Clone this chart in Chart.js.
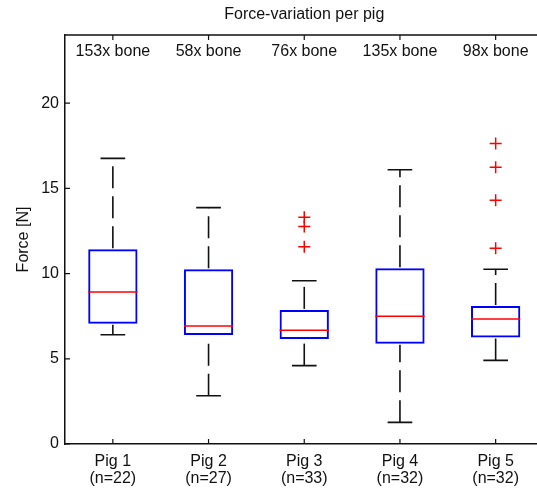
<!DOCTYPE html>
<html>
<head>
<meta charset="utf-8">
<title>Force-variation per pig</title>
<script src="https://cdn.jsdelivr.net/npm/chart.js@4.4.1/dist/chart.umd.min.js"></script>
<style>
  html, body { margin: 0; padding: 0; background: #fff; overflow: hidden; }
  #frame { width: 537px; height: 489px; overflow: hidden; position: relative; }
  #boxChart { position: absolute; left: 0; top: 0; }
</style>
</head>
<body>
<div id="frame"><canvas id="boxChart" width="551" height="489"></canvas></div>
<script>
// data
const categories = ['Pig 1', 'Pig 2', 'Pig 3', 'Pig 4', 'Pig 5'];
const sampleSizes = ['(n=22)', '(n=27)', '(n=33)', '(n=32)', '(n=32)'];
const boneCounts = ['153x bone', '58x bone', '76x bone', '135x bone', '98x bone'];
const lowerWhisker = [6.41, 2.83, 4.60, 1.27, 4.91];
const q1 = [7.05, 6.39, 6.16, 5.88, 6.25];
const median = [8.92, 6.92, 6.68, 7.50, 7.34];
const q3 = [11.43, 10.25, 7.87, 10.32, 8.10];
const upperWhisker = [16.76, 13.87, 9.58, 16.09, 10.25];
const outlierPig3 = [13.30, 12.76, 11.57];
const outlierPig5 = [17.63, 16.24, 14.31, 11.49];
const yTicks = [0, 5, 10, 15, 20];

const outliers = [];
outlierPig3.forEach(v => outliers.push({ x: 'Pig 3', y: v }));
outlierPig5.forEach(v => outliers.push({ x: 'Pig 5', y: v }));

Chart.defaults.font.family = "'Liberation Sans', Arial, sans-serif";
Chart.defaults.font.size = 16;
Chart.defaults.color = '#111';

// whiskers, medians, inward ticks, box frame and the text annotations
const boxPlotLines = {
    id: 'boxPlotLines',
    afterDatasetsDraw(chart) {
        const ctx = chart.ctx;
        const x = chart.scales.x;
        const y = chart.scales.y;
        const area = chart.chartArea;
        const bars = chart.getDatasetMeta(0).data;
        ctx.save();
        categories.forEach((c, i) => {
            const cx = x.getPixelForValue(i);
            const half = bars[i].width / 2;
            const cap = half / 2;
            ctx.strokeStyle = '#111';
            ctx.lineWidth = 1.6;
            // dashed whiskers, both drawn bottom-up like matlab does
            ctx.setLineDash([22, 8]);
            ctx.beginPath();
            ctx.moveTo(cx, y.getPixelForValue(q3[i]) - 1);
            ctx.lineTo(cx, y.getPixelForValue(upperWhisker[i]));
            ctx.stroke();
            ctx.beginPath();
            ctx.moveTo(cx, y.getPixelForValue(lowerWhisker[i]));
            ctx.lineTo(cx, y.getPixelForValue(q1[i]) + 1);
            ctx.stroke();
            ctx.setLineDash([]);
            // caps
            ctx.beginPath();
            ctx.moveTo(cx - cap, y.getPixelForValue(upperWhisker[i]));
            ctx.lineTo(cx + cap, y.getPixelForValue(upperWhisker[i]));
            ctx.moveTo(cx - cap, y.getPixelForValue(lowerWhisker[i]));
            ctx.lineTo(cx + cap, y.getPixelForValue(lowerWhisker[i]));
            ctx.stroke();
            // median
            ctx.strokeStyle = '#ff0000';
            ctx.lineWidth = 1.5;
            ctx.beginPath();
            ctx.moveTo(cx - half, y.getPixelForValue(median[i]));
            ctx.lineTo(cx + half, y.getPixelForValue(median[i]));
            ctx.stroke();
        });

        // frame top/right and inward ticks
        ctx.strokeStyle = '#111';
        ctx.lineWidth = 1.5;
        ctx.beginPath();
        ctx.moveTo(area.left, area.top);
        ctx.lineTo(area.right, area.top);
        ctx.lineTo(area.right, area.bottom);
        ctx.stroke();
        ctx.lineWidth = 1.2;
        ctx.beginPath();
        yTicks.forEach(v => {
            const py = y.getPixelForValue(v);
            ctx.moveTo(area.left, py);
            ctx.lineTo(area.left + 5, py);
            ctx.moveTo(area.right, py);
            ctx.lineTo(area.right - 5, py);
        });
        categories.forEach((c, i) => {
            const px = x.getPixelForValue(i);
            ctx.moveTo(px, area.bottom);
            ctx.lineTo(px, area.bottom - 5);
            ctx.moveTo(px, area.top);
            ctx.lineTo(px, area.top + 5);
        });
        ctx.stroke();

        // title and bone counts
        ctx.fillStyle = '#111';
        ctx.font = "16px 'Liberation Sans', Arial, sans-serif";
        ctx.textAlign = 'center';
        ctx.textBaseline = 'middle';
        ctx.fillText('Force-variation per pig', (area.left + area.right) / 2, 15);
        boneCounts.forEach((t, i) => {
            ctx.fillText(t, x.getPixelForValue(i), area.top + 17);
        });
        ctx.restore();
    }
};

const boxChart = new Chart(document.getElementById('boxChart').getContext('2d'), {
    type: 'bar',
    data: {
        labels: categories,
        datasets: [{
            label: 'IQR',
            data: categories.map((c, i) => [q1[i], q3[i]]),
            backgroundColor: 'rgba(0,0,0,0)',
            borderColor: '#0000ff',
            borderWidth: 2,
            borderSkipped: false,
            barPercentage: 0.515,
            categoryPercentage: 1
        }, {
            type: 'line',
            label: 'Outliers',
            data: outliers,
            showLine: false,
            pointStyle: 'cross',
            pointRadius: 6,
            pointBorderColor: '#ff0000',
            pointBorderWidth: 1.5,
            pointBackgroundColor: '#ff0000'
        }]
    },
    plugins: [boxPlotLines],
    options: {
        responsive: false,
        animation: false,
        layout: { padding: { top: 35, right: 0, left: 0, bottom: 0 } },
        scales: {
            x: {
                offset: true,
                grid: { display: false, drawTicks: false },
                border: { display: true, color: '#111', width: 1.5 },
                ticks: {
                    padding: 9,
                    maxRotation: 0,
                    font: { size: 16, lineHeight: 1.05 },
                    callback: (value, i) => [categories[i], sampleSizes[i]]
                },
                afterFit: scale => { scale.height = 45; }
            },
            y: {
                min: 0,
                max: 24,
                grid: { display: false, drawTicks: false },
                border: { display: true, color: '#111', width: 1.5 },
                ticks: { padding: 6 },
                afterBuildTicks: scale => { scale.ticks = yTicks.map(v => ({ value: v })); },
                afterFit: scale => { scale.width = 65; },
                title: {
                    display: true,
                    text: 'Force [N]',
                    font: { size: 16 },
                    padding: { top: 14, bottom: 0 }
                }
            }
        },
        plugins: {
            legend: { display: false },
            tooltip: { enabled: false },
            title: { display: false }
        }
    }
});
</script>
</body>
</html>
